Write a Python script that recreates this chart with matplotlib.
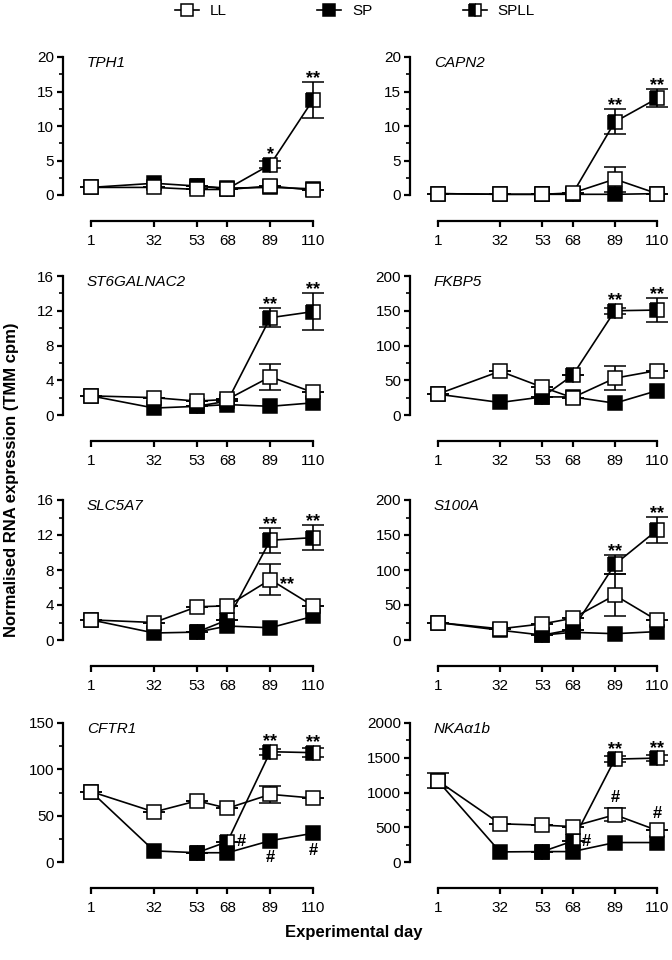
"""Normalised RNA expression of eight genes across experimental days (LL / SP / SPLL)."""

import matplotlib
matplotlib.use("Agg")
import matplotlib.pyplot as plt
import numpy as np
from matplotlib.lines import Line2D
from matplotlib.ticker import MultipleLocator

plt.rcParams["font.family"] = ["Liberation Sans", "DejaVu Sans"]

nan = np.nan
days = [1, 32, 53, 68, 89, 110]
day_labels = ["1", "32", "53", "68", "89", "110"]

genes = ["TPH1", "CAPN2", "ST6GALNAC2", "FKBP5", "SLC5A7", "S100A", "CFTR1", "NKAα1b"]
y_max = [20, 20, 16, 200, 16, 200, 150, 2000]
y_major = [5, 5, 4, 50, 4, 50, 50, 500]

# means per gene: LL, SP, SPLL (SPLL branches off SP after day 53)
ll_tph1 = [1.1, 1.1, 0.8, 0.8, 1.3, 0.7]
sp_tph1 = [1.1, 1.7, 1.3, 1.0, 1.1, 0.9]
spll_tph1 = [nan, nan, 1.3, 0.9, 4.4, 13.8]
ll_capn2 = [0.2, 0.1, 0.1, 0.3, 2.3, 0.2]
sp_capn2 = [0.2, 0.1, 0.1, 0.1, 0.1, 0.2]
spll_capn2 = [nan, nan, 0.1, 0.2, 10.6, 14.0]
ll_st6 = [2.2, 2.0, 1.6, 1.8, 4.4, 2.6]
sp_st6 = [2.2, 0.8, 1.0, 1.2, 1.0, 1.4]
spll_st6 = [nan, nan, 1.0, 1.6, 11.2, 11.9]
ll_fkbp5 = [30, 63, 40, 25, 53, 64]
sp_fkbp5 = [30, 18, 26, 26, 17, 35]
spll_fkbp5 = [nan, nan, 26, 57, 150, 151]
ll_slc5a7 = [2.3, 2.0, 3.8, 3.9, 6.9, 3.9]
sp_slc5a7 = [2.3, 0.8, 0.9, 1.6, 1.4, 2.7]
spll_slc5a7 = [nan, nan, 0.9, 2.3, 11.4, 11.7]
ll_s100a = [25, 16, 23, 31, 64, 28]
sp_s100a = [25, 14, 7, 11, 9, 12]
spll_s100a = [nan, nan, 7, 15, 108, 157]
ll_cftr1 = [76, 54, 66, 58, 73, 69]
sp_cftr1 = [76, 12, 10, 10, 23, 31]
spll_cftr1 = [nan, nan, 10, 22, 119, 118]
ll_nka = [1170, 550, 530, 510, 680, 455]
sp_nka = [1170, 145, 150, 150, 280, 280]
spll_nka = [nan, nan, 150, 300, 1480, 1495]

# error bars (0 = hidden behind marker)
ll_err_tph1 = [0, 0, 0, 0, 0, 0]
spll_err_tph1 = [0, 0, 0, 0, 0.5, 2.6]
ll_err_capn2 = [0, 0, 0, 0, 1.8, 0]
spll_err_capn2 = [0, 0, 0, 0, 1.8, 1.3]
ll_err_st6 = [0, 0, 0, 0, 1.5, 0]
spll_err_st6 = [0, 0, 0, 0, 1.1, 2.1]
ll_err_fkbp5 = [0, 0, 0, 0, 17, 0]
spll_err_fkbp5 = [0, 0, 0, 0, 4, 17]
ll_err_slc5a7 = [0, 0, 0, 0, 1.8, 0]
spll_err_slc5a7 = [0, 0, 0, 0, 1.4, 1.4]
ll_err_s100a = [0, 0, 0, 0, 30, 0]
spll_err_s100a = [0, 0, 0, 0, 14, 19]
ll_err_cftr1 = [0, 0, 0, 0, 9, 0]
spll_err_cftr1 = [0, 0, 0, 0, 3, 5]
ll_err_nka = [110, 0, 0, 0, 90, 0]
spll_err_nka = [0, 0, 0, 0, 40, 40]

ll_all = [ll_tph1, ll_capn2, ll_st6, ll_fkbp5, ll_slc5a7, ll_s100a, ll_cftr1, ll_nka]
sp_all = [sp_tph1, sp_capn2, sp_st6, sp_fkbp5, sp_slc5a7, sp_s100a, sp_cftr1, sp_nka]
spll_all = [spll_tph1, spll_capn2, spll_st6, spll_fkbp5, spll_slc5a7, spll_s100a, spll_cftr1, spll_nka]
ll_err_all = [ll_err_tph1, ll_err_capn2, ll_err_st6, ll_err_fkbp5, ll_err_slc5a7,
              ll_err_s100a, ll_err_cftr1, ll_err_nka]
spll_err_all = [spll_err_tph1, spll_err_capn2, spll_err_st6, spll_err_fkbp5, spll_err_slc5a7,
                spll_err_s100a, spll_err_cftr1, spll_err_nka]

# significance marks: (gene index, series, day index, text, placement)
marks = [
    (0, "spll", 4, "*", "above"), (0, "spll", 5, "**", "above"),
    (1, "spll", 4, "**", "above"), (1, "spll", 5, "**", "above"),
    (2, "spll", 4, "**", "above"), (2, "spll", 5, "**", "above"),
    (3, "spll", 4, "**", "above"), (3, "spll", 5, "**", "above"),
    (4, "spll", 4, "**", "above"), (4, "spll", 5, "**", "above"),
    (4, "ll", 4, "**", "right"),
    (5, "spll", 4, "**", "above"), (5, "spll", 5, "**", "above"),
    (6, "spll", 4, "**", "above"), (6, "spll", 5, "**", "above"),
    (6, "spll", 3, "#", "right"), (6, "sp", 4, "#", "below"), (6, "sp", 5, "#", "below"),
    (7, "spll", 4, "**", "above"), (7, "spll", 5, "**", "above"),
    (7, "ll", 4, "#", "above"), (7, "ll", 5, "#", "above"), (7, "spll", 3, "#", "right"),
]

W, H = 672, 960
rows_px = [(57, 195), (276, 415), (500, 640), (723, 862)]
cols_px = [(63, 258), (410, 255)]
XLIM = (-12.75, 113.9)
MS = 9.5
FS = 11

fig = plt.figure(figsize=(W / 100, H / 100), dpi=100)

style = dict(color="black", lw=1.2, ms=MS, mec="black", mew=1.1,
             capsize=8, elinewidth=1.2, capthick=1.2, clip_on=False)


def mark(ax, text, x, y, err_pt, where):
    star = "*" in text
    fs = 13 if star else 12
    center = 0.58 if star else 0.35
    reach = max(err_pt, MS / 2)
    if where == "above":
        dy = reach - 0.8 if star else reach + 4.5
        ax.annotate(text, (x, y), xytext=(0, dy), textcoords="offset points",
                    ha="center", va="baseline", fontsize=fs, fontweight="bold")
    elif where == "below":
        ax.annotate(text, (x, y), xytext=(0, -MS / 2 - 2 - 0.72 * fs), textcoords="offset points",
                    ha="center", va="baseline", fontsize=fs, fontweight="bold")
    else:
        ax.annotate(text, (x, y), xytext=(MS / 2 + 2, -center * fs + 1), textcoords="offset points",
                    ha="left", va="baseline", fontsize=fs, fontweight="bold")


for i, gene in enumerate(genes):
    top, bottom = rows_px[i // 2]
    left, width = cols_px[i % 2]
    ax = fig.add_axes([left / W, 1 - bottom / H, width / W, (bottom - top) / H])

    spll, sp, ll = spll_all[i], sp_all[i], ll_all[i]
    ax.errorbar(days, spll, yerr=spll_err_all[i], marker="s", fillstyle="left",
                mfc="black", mfcalt="white", zorder=2, **style)
    ax.errorbar(days, sp, marker="s", mfc="black", zorder=3, **style)
    ax.errorbar(days, ll, yerr=ll_err_all[i], marker="s", mfc="white", zorder=4, **style)

    ax.set_xlim(*XLIM)
    ax.set_ylim(0, y_max[i])
    ax.set_xticks(days)
    ax.set_xticklabels(day_labels)
    ax.yaxis.set_major_locator(MultipleLocator(y_major[i]))
    ax.yaxis.set_minor_locator(MultipleLocator(y_major[i] / 2))
    for side in ("top", "right"):
        ax.spines[side].set_visible(False)
    ax.spines["bottom"].set_position(("outward", 18.7))
    ax.spines["bottom"].set_bounds(days[0], days[-1])
    ax.spines["left"].set_linewidth(1.6)
    ax.spines["bottom"].set_linewidth(1.6)
    ax.tick_params(axis="both", which="major", direction="out", length=4.5, width=1.6,
                   labelsize=FS, pad=2)
    ax.tick_params(axis="x", which="major", pad=5)
    ax.tick_params(axis="y", which="minor", direction="out", length=3, width=1.2)
    ax.patch.set_visible(False)

    ax.text(0.093, 0.955, gene, transform=ax.transAxes, fontsize=FS, style="italic",
            ha="left", va="center")

    pt_per_unit = (bottom - top) * 0.72 / y_max[i]
    series = {"ll": (ll, ll_err_all[i]), "sp": (sp, [0] * 6), "spll": (spll, spll_err_all[i])}
    for gi, name, di, text, where in marks:
        if gi == i:
            vals, errs = series[name]
            mark(ax, text, days[di], vals[di], errs[di] * pt_per_unit, where)

leg_style = dict(color="black", lw=1.2, marker="s", ms=8.5, mec="black", mew=1.1)
handles = [
    Line2D([], [], mfc="white", **leg_style),
    Line2D([], [], mfc="black", **leg_style),
    Line2D([], [], fillstyle="left", mfc="black", mfcalt="white", **leg_style),
]
fig.legend(handles, ["LL", "SP", "SPLL"], loc="center", bbox_to_anchor=(0.528, 1 - 11 / H),
           ncol=3, frameon=False, fontsize=FS, handlelength=1.6, handletextpad=0.7,
           columnspacing=5.9)

fig.text(12 / W, 1 - 480 / H, "Normalised RNA expression (TMM cpm)", rotation=90,
         ha="center", va="center", fontsize=12, fontweight="bold")
fig.text(354 / W, 1 - 933 / H, "Experimental day", ha="center", va="center",
         fontsize=12, fontweight="bold")

fig.savefig("out.png", dpi=100)
